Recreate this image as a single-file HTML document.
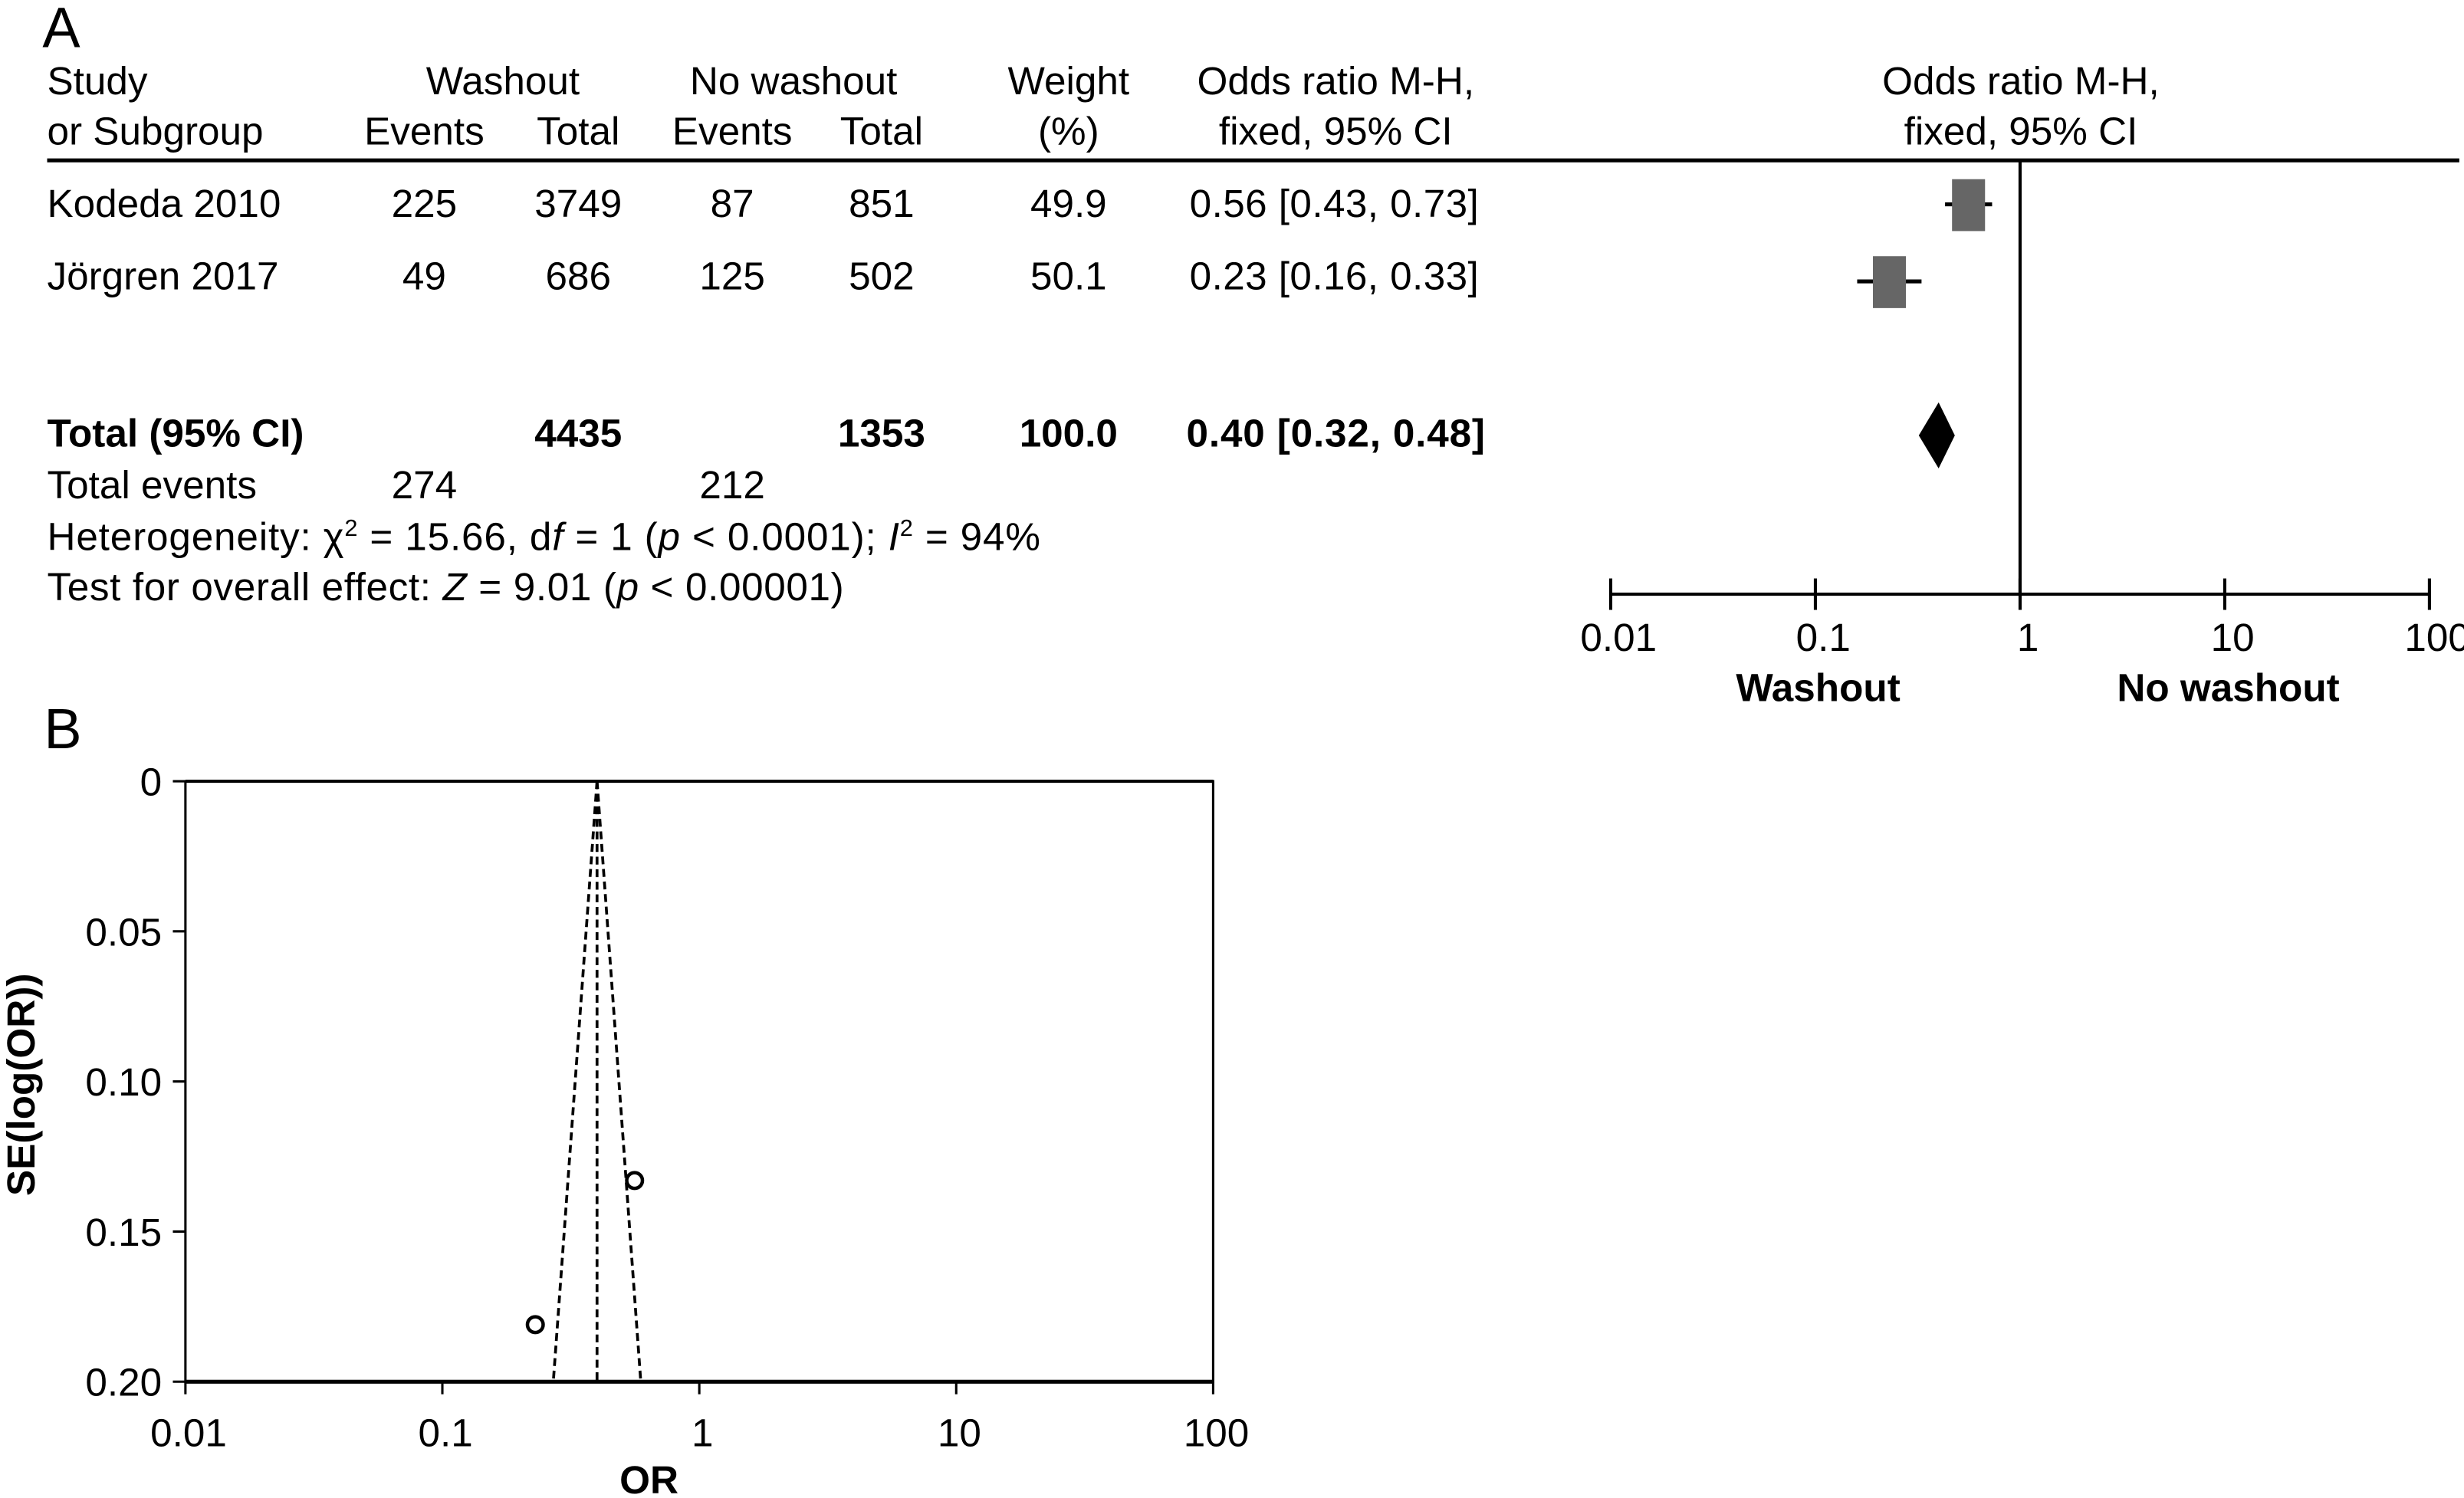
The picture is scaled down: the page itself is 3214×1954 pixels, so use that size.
<!DOCTYPE html>
<html><head><meta charset="utf-8"><style>
html,body{margin:0;padding:0;background:#fff;}
svg{display:block;}
text{font-family:"Liberation Sans",sans-serif;font-size:25px;fill:#000;}
.b{font-weight:bold;}
.big{font-size:36px;}
.sup{font-size:15px;}
</style></head><body>
<svg id="fig" width="3214" height="1954" viewBox="0 0 1568 953" preserveAspectRatio="none" xmlns="http://www.w3.org/2000/svg">
<text x="27" y="30" class="big">A</text>
<g>
<text x="30" y="60">Study</text>
<text x="30" y="92">or Subgroup</text>
<text x="320" y="60" text-anchor="middle">Washout</text>
<text x="270" y="92" text-anchor="middle">Events</text>
<text x="368" y="92" text-anchor="middle">Total</text>
<text x="505" y="60" text-anchor="middle">No washout</text>
<text x="466" y="92" text-anchor="middle">Events</text>
<text x="561" y="92" text-anchor="middle">Total</text>
<text x="680" y="60" text-anchor="middle">Weight</text>
<text x="680" y="92" text-anchor="middle">(%)</text>
<text x="850" y="60" text-anchor="middle">Odds ratio M-H,</text>
<text x="850" y="92" text-anchor="middle">fixed, 95% CI</text>
<text x="1286" y="60" text-anchor="middle">Odds ratio M-H,</text>
<text x="1286" y="92" text-anchor="middle">fixed, 95% CI</text>
</g>
<line x1="30" y1="102" x2="1565" y2="102" stroke="#000" stroke-width="2.5"/>
<g id="rows"></g>
<g>
<text x="30" y="284" class="b">Total (95% CI)</text>
<text x="368" y="284" class="b" text-anchor="middle">4435</text>
<text x="561" y="284" class="b" text-anchor="middle">1353</text>
<text x="680" y="284" class="b" text-anchor="middle">100.0</text>
<text x="755" y="284" class="b" textLength="190">0.40 [0.32, 0.48]</text>
<text x="30" y="317">Total events</text>
<text x="270" y="317" text-anchor="middle">274</text>
<text x="466" y="317" text-anchor="middle">212</text>
<text x="30" y="350" textLength="632">Heterogeneity: χ<tspan class="sup" dy="-9">2</tspan><tspan dy="9"> = 15.66, d</tspan><tspan font-style="italic">f</tspan> = 1 (<tspan font-style="italic">p</tspan> &lt; 0.0001); <tspan font-style="italic">I</tspan><tspan class="sup" dy="-9">2</tspan><tspan dy="9"> = 94%</tspan></text>
<text x="30" y="382" textLength="507">Test for overall effect: <tspan font-style="italic">Z</tspan> = 9.01 (<tspan font-style="italic">p</tspan> &lt; 0.00001)</text>
</g>
<g id="forest"></g>
<text x="28" y="476" class="big">B</text>
<g id="funnel"></g>
</svg>
<script>
const studies = ["Kodeda 2010", "Jörgren 2017"];
const washEvents = [225, 49];
const washTotal = [3749, 686];
const noEvents = [87, 125];
const noTotal = [851, 502];
const weights = ["49.9", "50.1"];
const orVals = [0.56, 0.23];
const ciLow = [0.43, 0.16];
const ciHigh = [0.73, 0.33];
const pooled = [0.40, 0.32, 0.48];
const seVals = [0.133, 0.181];
const xTicks = [0.01, 0.1, 1, 10, 100];
const xTickLabels = ["0.01", "0.1", "1", "10", "100"];
const yTicks = [0, 0.05, 0.10, 0.15, 0.20];
const yTickLabels = ["0", "0.05", "0.10", "0.15", "0.20"];

const NS = "http://www.w3.org/2000/svg";
function mk(parent, tag, attrs, txt){
  const e = document.createElementNS(NS, tag);
  for (const k in attrs) e.setAttribute(k, attrs[k]);
  if (txt !== undefined) e.textContent = txt;
  parent.appendChild(e);
  return e;
}
const rowY = [138, 184];
const rows = document.getElementById('rows');
studies.forEach((s, i) => {
  const y = rowY[i];
  const cols = [[30, s, 'start'], [270, washEvents[i], 'middle'], [368, washTotal[i], 'middle'], [466, noEvents[i], 'middle'], [561, noTotal[i], 'middle'], [680, weights[i], 'middle'], [757, orVals[i].toFixed(2) + ' [' + ciLow[i].toFixed(2) + ', ' + ciHigh[i].toFixed(2) + ']', 'start']];
  cols.forEach((c, j) => {
    const t = mk(rows, 'text', {x: c[0], y: y, 'text-anchor': c[2]}, String(c[1]));
    if (j === 6) t.setAttribute('textLength', '184');
    
    
  });
});

// forest plot
const forest = document.getElementById('forest');
const fx = v => 1025 + (Math.log10(v) + 2) * 130.25;
const axY = 378;
let l = mk(forest, 'line', {x1: fx(1), y1: 102, x2: fx(1), y2: axY, stroke: '#000', 'stroke-width': 2});


l = mk(forest, 'line', {x1: fx(0.01), y1: axY, x2: fx(100), y2: axY, stroke: '#000', 'stroke-width': 2});


xTicks.forEach((v, i) => {
  const t = mk(forest, 'line', {x1: fx(v), y1: axY - 10, x2: fx(v), y2: axY + 10, stroke: '#000', 'stroke-width': 2});
  
  
  const tl = mk(forest, 'text', {x: fx(v) + 5, y: axY + 36, 'text-anchor': 'middle'}, xTickLabels[i]);
  
  
});
let lab = mk(forest, 'text', {x: 1157, y: 446, 'text-anchor': 'middle', class: 'b'}, 'Washout');


lab = mk(forest, 'text', {x: 1418, y: 446, 'text-anchor': 'middle', class: 'b'}, 'No washout');


const sqY = [130, 179];
studies.forEach((s, i) => {
  const ci = mk(forest, 'line', {x1: fx(ciLow[i]), y1: sqY[i], x2: fx(ciHigh[i]), y2: sqY[i], stroke: '#000', 'stroke-width': 2.5});
  
  
  const sq = mk(forest, 'rect', {x: fx(orVals[i]) - 10.5, y: sqY[i] - 16, width: 21, height: 33, fill: '#666'});
  
  
});
const dy = 277;
const dm = mk(forest, 'polygon', {points: fx(pooled[1]) + ',' + dy + ' ' + fx(pooled[0]) + ',' + (dy - 21) + ' ' + fx(pooled[2]) + ',' + dy + ' ' + fx(pooled[0]) + ',' + (dy + 21), fill: '#000'});



// funnel plot
const funnel = document.getElementById('funnel');
const gx = v => 118 + (Math.log10(v) + 2) * 163.5;
const gy = v => 497 + v / 0.2 * 382;
let box = mk(funnel, 'rect', {x: gx(0.01), y: gy(0), width: gx(100) - gx(0.01), height: gy(0.2) - gy(0), fill: 'none', stroke: '#000', 'stroke-width': 1.5});


l = mk(funnel, 'line', {x1: gx(0.01), y1: gy(0.2), x2: gx(100), y2: gy(0.2), stroke: '#000', 'stroke-width': 2.5});


l = mk(funnel, 'line', {x1: gx(0.01), y1: gy(0), x2: gx(100), y2: gy(0), stroke: '#000', 'stroke-width': 2});


xTicks.forEach((v, i) => {
  const t = mk(funnel, 'line', {x1: gx(v), y1: gy(0.2), x2: gx(v), y2: gy(0.2) + 8, stroke: '#000', 'stroke-width': 1.5});
  
  
  const tl = mk(funnel, 'text', {x: gx(v) + 2, y: 920, 'text-anchor': 'middle'}, xTickLabels[i]);
  
  
});
yTicks.forEach((v, i) => {
  const t = mk(funnel, 'line', {x1: gx(0.01) - 8, y1: gy(v), x2: gx(0.01), y2: gy(v), stroke: '#000', 'stroke-width': 1.5});
  
  
  const tl = mk(funnel, 'text', {x: 103, y: gy(v) + 9, 'text-anchor': 'end'}, yTickLabels[i]);
  
  
});
lab = mk(funnel, 'text', {x: 413, y: 950, 'text-anchor': 'middle', class: 'b'}, 'OR');


lab = mk(funnel, 'text', {x: 0, y: 0, 'text-anchor': 'middle', class: 'b', transform: 'translate(22,690) rotate(-90)'}, 'SE(log(OR))');


const p = pooled[0], k = Math.exp(1.96 * 0.2);
const dashes = [[p, 0, p, 0.2], [p, 0, p / k, 0.2], [p, 0, p * k, 0.2]];
dashes.forEach((d, i) => {
  const ln = mk(funnel, 'line', {x1: gx(d[0]), y1: gy(d[1]), x2: gx(d[2]), y2: gy(d[3]), stroke: '#000', 'stroke-width': 1.8, 'stroke-dasharray': '5,3'});
  
  
});
orVals.forEach((v, i) => {
  const c = mk(funnel, 'circle', {cx: gx(v), cy: gy(seVals[i]), r: 5, fill: 'none', stroke: '#000', 'stroke-width': 2.2});
  
  
});
</script>
</body></html>
